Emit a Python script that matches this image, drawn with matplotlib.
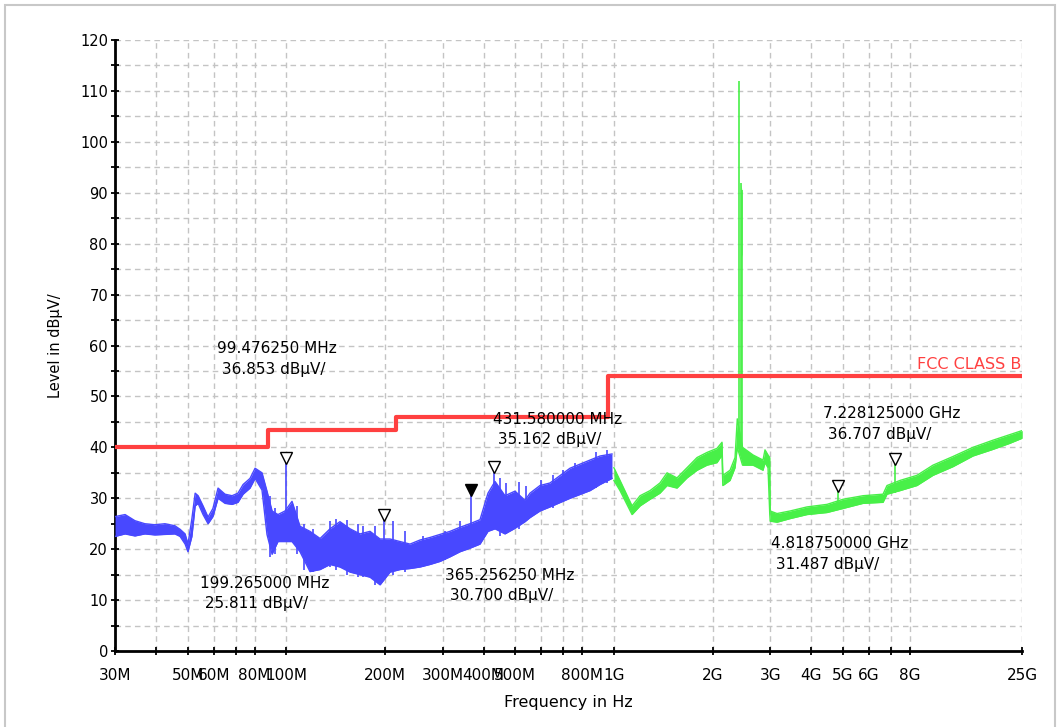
import numpy as np
import matplotlib.pyplot as plt
from matplotlib.patches import Rectangle
from matplotlib.ticker import FixedLocator, NullLocator, MultipleLocator

# trace 30 MHz - 1 GHz, upper / lower edge of the noise band (MHz, dBuV/m)
blue_f = [30.0, 32.2, 34.5, 37.0, 39.7, 42.6, 45.7, 47.4, 49.1, 50.1, 51.5, 52.7,
          53.8, 55.7, 57.7, 59.7, 61.9, 65.0, 68.3, 71.2, 73.8, 77.5, 80.3, 84.3,
          87.3, 90.5, 94.3, 99.1, 104.1, 110.1, 118.1, 126.8, 136.0, 145.8, 156.5,
          167.9, 180.1, 193.3, 207.3, 222.4, 238.6, 255.9, 274.6, 294.6, 316.0,
          339.0, 363.7, 390.2, 412.7, 433.6, 465.1, 498.9, 535.3, 554.4, 594.8,
          638.1, 734.6, 845.5, 907.2, 986.6]
blue_hi = [26.4, 26.8, 25.6, 25.0, 24.8, 25.0, 24.6, 23.9, 23.0, 21.0, 26.0, 31.0,
           30.5, 28.5, 26.3, 28.0, 32.0, 30.8, 30.5, 31.0, 32.7, 33.9, 35.9, 35.0,
           31.4, 27.5, 26.8, 27.5, 29.4, 24.5, 23.5, 22.1, 24.0, 25.4, 24.0,
           23.0, 23.5, 22.0, 22.0, 21.5, 21.0, 21.8, 22.3, 22.9, 23.5,
           24.3, 25.0, 25.8, 31.0, 33.3, 30.5, 31.4, 29.6, 31.0, 32.5,
           33.0, 35.9, 37.5, 38.3, 38.7]
blue_lo = [22.5, 23.0, 22.6, 23.0, 22.8, 22.9, 23.0, 22.5, 21.0, 19.5, 22.5, 28.5,
           29.0, 26.8, 25.0, 26.4, 30.0, 29.0, 28.8, 29.2, 30.8, 32.0, 33.9, 31.6,
           22.9, 19.0, 21.5, 21.5, 21.5, 19.5, 15.6, 16.0, 17.0, 16.5, 15.5,
           15.0, 14.5, 13.0, 15.5, 16.0, 16.2, 16.5, 17.0, 17.6, 18.5,
           19.5, 20.2, 21.0, 23.5, 24.0, 23.0, 24.1, 25.4, 26.2, 27.5,
           28.3, 30.0, 31.5, 32.7, 33.9]

# narrow noise spikes sticking out of the blue band
spike_f = [89.0, 92.5, 107.7, 113.0, 121.0, 136.0, 142.0, 153.0, 165.0, 172.0,
           186.0, 211.0, 230.0, 262.0, 305.0, 340.0, 448.0, 470.0, 513.0, 540.0,
           600.0, 650.0, 700.0, 760.0, 880.0, 950.0]
spike_top = [30.5, 28.0, 28.4, 25.0, 24.0, 25.5, 26.0, 25.8, 25.0, 24.6,
             24.5, 25.5, 23.5, 22.5, 23.5, 25.5, 34.0, 33.0, 33.2, 32.5,
             33.5, 34.5, 35.5, 37.0, 39.0, 39.5]
spike_bot = [18.5, 19.0, 19.0, 16.0, 15.5, 16.5, 16.0, 15.0, 14.5, 14.5,
             13.0, 15.0, 15.5, 16.5, 17.8, 19.5, 22.5, 23.0, 24.0, 26.0,
             27.5, 28.0, 29.5, 30.5, 32.0, 33.0]

# trace 1 GHz - 25 GHz
green_f = [1000, 1044, 1136, 1202, 1289, 1382, 1453, 1558, 1672, 1794, 1924, 2064,
           2138, 2150, 2262, 2343, 2380, 2470, 2659, 2852, 2892, 2954, 2990, 3000,
           3147, 3448, 3886, 4473, 5005, 5759, 6630, 6818, 7471, 8606, 10120,
           12390, 15170, 18580, 22060, 25000]
green_hi = [36.0, 33.5, 28.5, 30.5, 31.5, 33.0, 35.0, 34.0, 36.0, 38.0, 39.0, 39.8,
            41.0, 34.5, 35.5, 38.0, 45.6, 40.0, 38.5, 37.5, 39.5, 38.5, 38.0, 27.5,
            27.0, 27.5, 28.3, 28.8, 29.8, 30.5, 30.8, 32.5, 33.5, 34.5, 36.5,
            38.2, 40.0, 41.4, 42.5, 43.3]
green_lo = [33.5, 31.5, 26.8, 28.5, 29.8, 31.0, 32.5, 32.0, 34.0, 35.5, 36.5, 37.0,
            38.5, 32.5, 33.5, 36.0, 40.0, 36.5, 36.5, 35.5, 37.0, 36.0, 27.0, 25.5,
            25.3, 26.0, 26.8, 27.2, 28.0, 29.0, 29.2, 30.8, 31.5, 32.5, 34.5,
            36.2, 38.3, 39.6, 40.8, 41.8]

# 2.4 GHz carrier
wifi_f = [2412, 2446, 2458]
wifi_top = [111.9, 92.0, 90.5]
burst_f = [2442, 2462]
burst_hi = [92.0, 90.0]
burst_lo = [77.0, 78.0]

# FCC class B limit
limit_f = [30, 88, 88, 216, 216, 960, 960, 25000]
limit_db = [40, 40, 43.5, 43.5, 46, 46, 54, 54]

# markers
mk_f = [99.47625, 199.265, 365.25625, 431.58, 4818.75, 7228.125]
mk_db = [36.853, 25.811, 30.700, 35.162, 31.487, 36.707]
mk_base = [24.0, 18.0, 22.0, 25.0, 28.0, 31.0]
mk_text = ["99.476250 MHz\n 36.853 dBµV/", "199.265000 MHz\n 25.811 dBµV/",
           "365.256250 MHz\n 30.700 dBµV/", "431.580000 MHz\n 35.162 dBµV/",
           "4.818750000 GHz\n 31.487 dBµV/", "7.228125000 GHz\n 36.707 dBµV/"]

tick_f = [30, 40, 50, 60, 70, 80, 100, 200, 300, 400, 500, 600, 700, 800, 1000,
          2000, 3000, 4000, 5000, 6000, 7000, 8000, 25000]
tick_lab = ["30M", "", "50M", "60M", "", "80M", "100M", "200M", "300M", "400M",
            "500M", "", "", "800M", "1G", "2G", "3G", "4G", "5G", "6G", "", "8G", "25G"]

# the analyzer axis is log, squeezed above 8 GHz
L8 = np.log10(8000.0)
K = 0.694


def fwd(f):
    l = np.log10(np.maximum(f, 1e-3))
    return np.where(l > L8, L8 + (l - L8) * K, l)


def inv(u):
    return 10 ** np.where(u > L8, L8 + (u - L8) / K, u)


plt.rcParams['font.family'] = 'DejaVu Sans'
fig = plt.figure(figsize=(10.6, 7.27), dpi=100)
ax = fig.add_axes([0.1085, 0.1045, 0.8559, 0.8405])
ax.set_xscale('function', functions=(fwd, inv))

blue = '#4848ff'
green = '#48f048'
ax.fill_between(blue_f, blue_lo, blue_hi, color=blue, lw=0, zorder=3)
ax.plot(blue_f, blue_hi, color=blue, lw=1, zorder=3)
ax.plot(blue_f, blue_lo, color=blue, lw=1, zorder=3)
ax.vlines(spike_f, spike_bot, spike_top, color=blue, lw=1.2, zorder=3)
ax.fill_between(green_f, green_lo, green_hi, color=green, lw=0, zorder=3)
ax.plot(green_f, green_hi, color=green, lw=1, zorder=3)
ax.plot(green_f, green_lo, color=green, lw=1, zorder=3)
ax.vlines(wifi_f, 40, wifi_top, color=green, lw=1.2, zorder=3)
ax.fill_between(burst_f, burst_lo, burst_hi, color=green, lw=0, zorder=3)

ax.plot(limit_f, limit_db, color='#ff4040', lw=3, zorder=4)
ax.text(24800, 54.8, "FCC CLASS B", color='#ff4040', fontsize=11.5,
        ha='right', va='bottom', zorder=5)

for i in range(len(mk_f)):
    c = blue if mk_f[i] < 1000 else green
    ax.vlines(mk_f[i], mk_base[i], mk_db[i], color=c, lw=1.2, zorder=3)
    filled = mk_f[i] == 365.25625
    ax.plot(mk_f[i], mk_db[i] + 1.0, marker='v', ms=8.5,
            mfc='black' if filled else 'white', mec='black', mew=1, zorder=6)

text_pos = [(61.3, 60.8), (54.5, 14.8), (305, 16.4), (427, 47.0), (3017, 22.5), (4348, 48.1)]
for (x, y), s in zip(text_pos, mk_text):
    ax.text(x, y, s, fontsize=11, ha='left', va='top', linespacing=1.45, zorder=7)

ax.set_xlim(30, 25000)
ax.set_ylim(0, 120)
ax.xaxis.set_major_locator(FixedLocator(tick_f))
ax.xaxis.set_minor_locator(NullLocator())
ax.set_xticklabels(tick_lab)
ax.yaxis.set_major_locator(MultipleLocator(10))
ax.yaxis.set_minor_locator(MultipleLocator(5))

ax.grid(which='major', axis='x', color='#c4c4c4', ls=(0, (4, 3)), lw=1)
ax.grid(which='both', axis='y', color='#c4c4c4', ls=(0, (4, 3)), lw=1)
ax.set_axisbelow(True)
for s in ['top', 'right']:
    ax.spines[s].set_visible(False)
for s in ['left', 'bottom']:
    ax.spines[s].set_linewidth(2)
ax.tick_params(which='both', direction='inout', length=6, width=1.3)
ax.tick_params(axis='x', pad=9, labelsize=11)
ax.tick_params(axis='y', pad=2, labelsize=10.5)

ax.set_xlabel("Frequency in Hz", fontsize=11.5, labelpad=9)
ax.set_ylabel("Level in dBµV/", fontsize=10.5, labelpad=12)

fig.patches.append(Rectangle((0.0047, -0.01), 0.991, 1.003, transform=fig.transFigure,
                             fill=False, ec='#c8c8c8', lw=1.5))

fig.savefig("out.png", dpi=100)
